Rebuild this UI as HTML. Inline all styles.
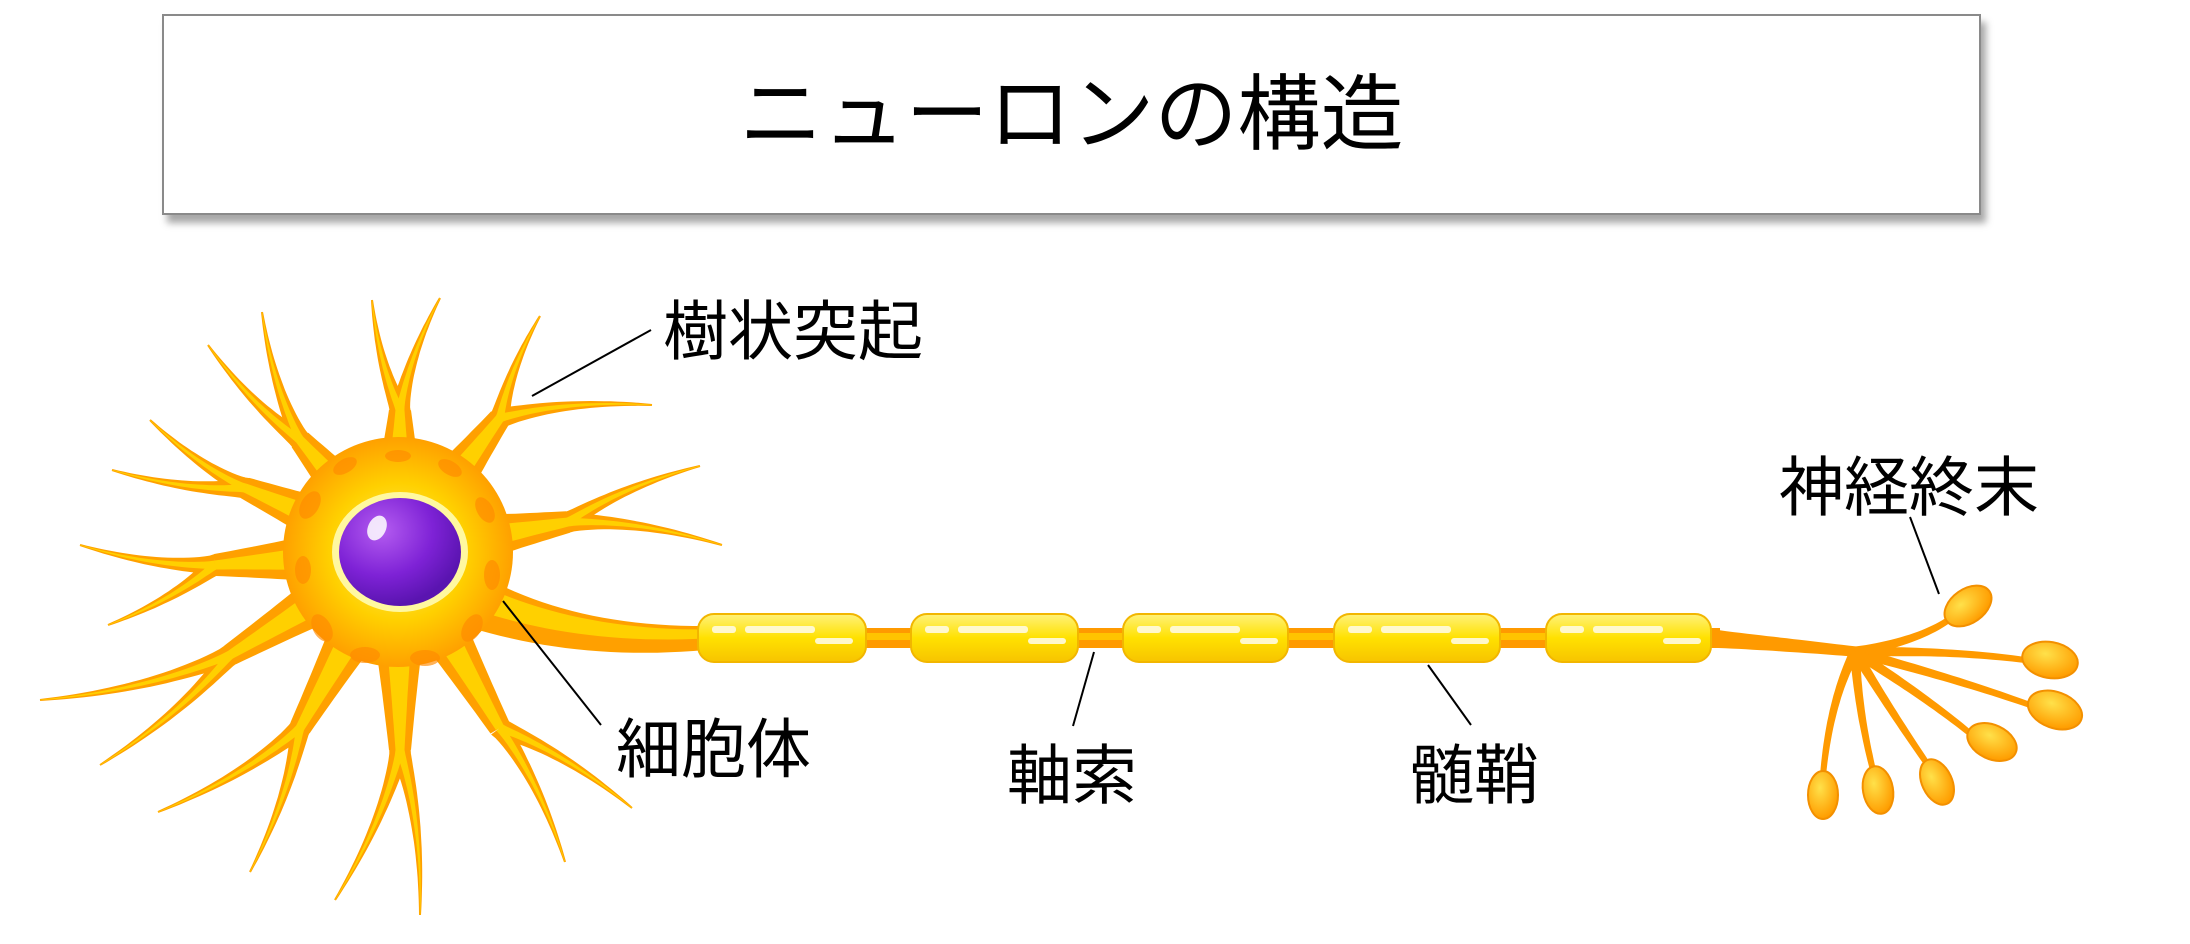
<!DOCTYPE html>
<html><head><meta charset="utf-8">
<style>
html,body{margin:0;padding:0;background:#fff;width:2190px;height:944px;overflow:hidden;}
.title{position:absolute;left:162px;top:14px;width:1815px;height:197px;border:2px solid #8a8a8a;background:#fff;box-shadow:5px 8px 7px rgba(0,0,0,.35);
font-family:"Liberation Sans","Noto Sans CJK JP",sans-serif;font-size:83px;line-height:197px;text-align:center;color:#000;}
svg{position:absolute;left:0;top:0;}
text{font-family:"Liberation Sans","Noto Sans CJK JP",sans-serif;font-size:65px;fill:#000;}
</style></head><body>
<div class="title">ニューロンの構造</div>
<svg id="s" width="2190" height="944" viewBox="0 0 2190 944">
<defs>
<radialGradient id="soma" cx="50%" cy="50%" r="50%">
<stop offset="0" stop-color="#fff36a"/><stop offset="0.6" stop-color="#ffd000"/><stop offset="1" stop-color="#ffa000"/></radialGradient>
<radialGradient id="nuc" cx="35%" cy="30%" r="70%">
<stop offset="0" stop-color="#b45cf0"/><stop offset="0.6" stop-color="#7e22d6"/><stop offset="1" stop-color="#5a14b0"/></radialGradient>
<linearGradient id="seg" x1="0" y1="0" x2="0" y2="1">
<stop offset="0" stop-color="#fff27a"/><stop offset="0.5" stop-color="#ffe100"/><stop offset="1" stop-color="#f7c400"/></linearGradient>
<radialGradient id="bulb" cx="40%" cy="35%" r="65%">
<stop offset="0" stop-color="#ffe14a"/><stop offset="1" stop-color="#ff9d00"/></radialGradient>
</defs>
<g id="dend"></g>
<circle cx="398" cy="552" r="115" fill="url(#soma)"/>
<g fill="#ff8a00" opacity="0.65">
<ellipse cx="310" cy="505" rx="9" ry="15" transform="rotate(30 310 505)"/>
<ellipse cx="303" cy="570" rx="8" ry="14"/>
<ellipse cx="322" cy="628" rx="9" ry="15" transform="rotate(-30 322 628)"/>
<ellipse cx="365" cy="655" rx="15" ry="8"/>
<ellipse cx="425" cy="658" rx="15" ry="8"/>
<ellipse cx="472" cy="628" rx="9" ry="15" transform="rotate(30 472 628)"/>
<ellipse cx="492" cy="575" rx="8" ry="15"/>
<ellipse cx="485" cy="510" rx="8" ry="14" transform="rotate(-30 485 510)"/>
<ellipse cx="450" cy="468" rx="13" ry="7" transform="rotate(30 450 468)"/>
<ellipse cx="398" cy="456" rx="13" ry="6"/>
<ellipse cx="345" cy="466" rx="13" ry="7" transform="rotate(-30 345 466)"/>
</g>
<ellipse cx="400" cy="552" rx="68" ry="60" fill="#fff8a0"/>
<ellipse cx="400" cy="552" rx="61" ry="54" fill="url(#nuc)"/>
<ellipse cx="377" cy="528" rx="9" ry="13" fill="#fff" opacity="0.85" transform="rotate(25 377 528)"/>
<g id="term"></g>
<g fill="url(#bulb)" stroke="#f39000" stroke-width="2">
<ellipse cx="1968" cy="606" rx="26" ry="17" transform="rotate(-35 1968 606)"/>
<ellipse cx="2050" cy="660" rx="28" ry="18" transform="rotate(10 2050 660)"/>
<ellipse cx="2055" cy="710" rx="28" ry="18" transform="rotate(20 2055 710)"/>
<ellipse cx="1992" cy="742" rx="26" ry="17" transform="rotate(25 1992 742)"/>
<ellipse cx="1823" cy="795" rx="15" ry="24"/>
<ellipse cx="1878" cy="790" rx="15" ry="24" transform="rotate(-10 1878 790)"/>
<ellipse cx="1937" cy="782" rx="15" ry="24" transform="rotate(-25 1937 782)"/>
</g>
<g fill="url(#seg)" stroke="#f2b600" stroke-width="2">
<rect x="698" y="614" width="168" height="48" rx="16"/>
<rect x="911" y="614" width="167" height="48" rx="16"/>
<rect x="1123" y="614" width="165" height="48" rx="16"/>
<rect x="1334" y="614" width="166" height="48" rx="16"/>
<rect x="1546" y="614" width="165" height="48" rx="16"/>
</g>
<g fill="#fffbe0" opacity="0.9">
<rect x="712" y="626" width="24" height="7" rx="3"/><rect x="745" y="626" width="70" height="7" rx="3"/><rect x="815" y="638" width="38" height="6" rx="3"/>
<rect x="925" y="626" width="24" height="7" rx="3"/><rect x="958" y="626" width="70" height="7" rx="3"/><rect x="1028" y="638" width="38" height="6" rx="3"/>
<rect x="1137" y="626" width="24" height="7" rx="3"/><rect x="1170" y="626" width="70" height="7" rx="3"/><rect x="1240" y="638" width="38" height="6" rx="3"/>
<rect x="1348" y="626" width="24" height="7" rx="3"/><rect x="1381" y="626" width="70" height="7" rx="3"/><rect x="1451" y="638" width="38" height="6" rx="3"/>
<rect x="1560" y="626" width="24" height="7" rx="3"/><rect x="1593" y="626" width="70" height="7" rx="3"/><rect x="1663" y="638" width="38" height="6" rx="3"/>
</g>
<g stroke="#000" stroke-width="2">
<line x1="651" y1="330" x2="532" y2="396"/>
<line x1="601" y1="725" x2="503" y2="601"/>
<line x1="1073" y1="726" x2="1094" y2="652"/>
<line x1="1471" y1="725" x2="1428" y2="665"/>
<line x1="1939" y1="594" x2="1910" y2="517"/>
</g>
<text x="663" y="354">樹状突起</text>
<text x="616" y="772">細胞体</text>
<text x="1007" y="798">軸索</text>
<text x="1409" y="798">髄鞘</text>
<text x="1779" y="510">神経終末</text>
</svg>
<script>
function taper(p0,c,p1,w0,w1,fill){
  var L=[],R=[],n=24;
  for(var i=0;i<=n;i++){
    var t=i/n,u=1-t;
    var x=u*u*p0[0]+2*u*t*c[0]+t*t*p1[0], y=u*u*p0[1]+2*u*t*c[1]+t*t*p1[1];
    var dx=2*u*(c[0]-p0[0])+2*t*(p1[0]-c[0]), dy=2*u*(c[1]-p0[1])+2*t*(p1[1]-c[1]);
    var l=Math.hypot(dx,dy)||1, nx=-dy/l, ny=dx/l;
    var w=(w0+(w1-w0)*Math.pow(t,0.6))/2;
    L.push((x+nx*w).toFixed(1)+","+(y+ny*w).toFixed(1));
    R.unshift((x-nx*w).toFixed(1)+","+(y-ny*w).toFixed(1));
  }
  return '<polygon points="'+L.concat(R).join(" ")+'" fill="'+fill+'"/>';
}
var C=[398,552];
var br=[
 [[400,410],[[372,300],[440,298]]],
 [[300,440],[[262,312],[208,345]]],
 [[245,488],[[150,420],[112,470]]],
 [[215,565],[[80,545],[108,625]]],
 [[230,655],[[40,700],[100,765]]],
 [[300,728],[[158,812],[250,872]]],
 [[400,750],[[335,900],[420,915]]],
 [[500,728],[[565,862],[632,808]]],
 [[568,522],[[722,545],[700,466]]],
 [[500,418],[[540,316],[652,405]]]
];
var out="",inn="";
function mid(a,b){return [(a[0]+b[0])/2,(a[1]+b[1])/2];}
br.forEach(function(b){
  var f=b[0];
  out+=taper(C,mid(C,f),f,90,22,"#ffa000");
  inn+=taper(C,mid(C,f),f,50,9,"#ffd000");
  b[1].forEach(function(t){
    var c=[f[0]+(t[0]-f[0])*0.45+(t[1]-f[1])*0.08, f[1]+(t[1]-f[1])*0.45-(t[0]-f[0])*0.08];
    out+=taper(f,c,t,22,2,"#ffa000");
    inn+=taper(f,c,t,9,0.5,"#ffd000");
  });
});
out+=taper([450,590],[560,645],[705,638],64,24,"#ffa000");
inn+=taper([450,585],[560,638],[705,634],32,9,"#ffd000");
document.getElementById("dend").innerHTML=out+inn;
var T="";
T+='<rect x="700" y="628" width="1020" height="20" fill="#ff9a00"/><rect x="700" y="633" width="1020" height="7" fill="#ffc400"/>';
T+=taper([1705,638],[1790,645],[1860,652],20,10,"#ff9a00");
var tips=[[1955,615],[2025,660],[2030,705],[1972,735],[1823,775],[1873,770],[1928,765]];
var cs=[[1925,640],[1950,650],[1960,680],[1930,700],[1830,700],[1858,710],[1890,710]];
tips.forEach(function(t,i){T+=taper([1855,652],cs[i],t,11,6,"#ff9a00");});
document.getElementById("term").innerHTML=T;
</script>
</body></html>
